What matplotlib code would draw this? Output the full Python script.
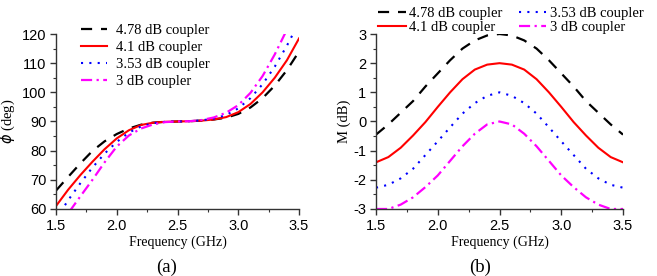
import matplotlib.pyplot as plt
from matplotlib.ticker import MultipleLocator

plt.rcParams["axes.unicode_minus"] = False

freq = [1.5, 1.6, 1.7, 1.8, 1.9, 2.0, 2.1, 2.2, 2.3, 2.4, 2.5,
        2.6, 2.7, 2.8, 2.9, 3.0, 3.1, 3.2, 3.3, 3.4, 3.5]

labels = ["4.78 dB coupler", "4.1 dB coupler", "3.53 dB coupler", "3 dB coupler"]

# phase (deg), panel (a)
phi_478 = [66.3, 71.0, 75.6, 79.9, 83.2, 85.7, 87.6, 88.9, 89.6, 89.9, 90.0,
           90.1, 90.3, 90.7, 91.3, 92.6, 94.8, 98.0, 102.3, 107.6, 114.0]
phi_41 = [61.0, 66.6, 71.6, 76.2, 80.5, 84.2, 87.0, 88.8, 89.6, 89.9, 90.0,
          90.1, 90.3, 90.7, 91.5, 93.2, 96.0, 100.0, 105.0, 111.0, 118.5]
phi_353 = [56.5, 63.0, 68.8, 74.2, 79.0, 83.0, 86.2, 88.3, 89.4, 89.9, 90.0,
           90.1, 90.4, 91.0, 92.2, 94.5, 98.0, 102.8, 108.8, 116.0, 124.0]
phi_3 = [53.0, 58.5, 64.3, 70.0, 76.0, 81.4, 85.2, 87.6, 89.0, 89.8, 90.0,
         90.1, 90.5, 91.4, 93.0, 95.6, 99.8, 105.6, 113.0, 121.5, 131.0]

# M (dB), panel (b)
m_478 = [-0.45, -0.1, 0.3, 0.7, 1.2, 1.65, 2.1, 2.5, 2.78, 2.95, 3.0,
         2.95, 2.78, 2.5, 2.1, 1.65, 1.2, 0.7, 0.3, -0.1, -0.45]
m_41 = [-1.4, -1.22, -0.9, -0.48, -0.02, 0.5, 1.0, 1.45, 1.78, 1.95, 2.0,
        1.95, 1.78, 1.45, 1.0, 0.5, -0.02, -0.48, -0.9, -1.22, -1.4]
m_353 = [-2.27, -2.17, -1.95, -1.62, -1.15, -0.68, -0.2, 0.27, 0.63, 0.88, 1.0,
         0.88, 0.63, 0.27, -0.2, -0.68, -1.15, -1.62, -1.95, -2.17, -2.27]
m_3 = [-3.0, -3.0, -2.85, -2.6, -2.25, -1.85, -1.35, -0.85, -0.42, -0.1, 0.0,
       -0.1, -0.42, -0.85, -1.35, -1.85, -2.25, -2.6, -2.85, -3.0, -3.0]

styles = [dict(color="black", linestyle=(0, (5, 4)), lw=1.6),
          dict(color="#ff0000", linestyle="-", lw=1.5),
          dict(color="blue", linestyle=(0, (1, 3)), lw=1.5),
          dict(color="magenta", linestyle=(0, (5, 2, 1, 2)), lw=1.6)]

serif = "Liberation Serif"
sans = "Liberation Sans"

fig = plt.figure(figsize=(6.57, 2.76), dpi=100)
ax1 = fig.add_axes([0.0852, 0.2428, 0.370, 0.634])
ax2 = fig.add_axes([0.5723, 0.2428, 0.376, 0.634])


def style_axes(ax):
    for s in ["top", "right"]:
        ax.spines[s].set_visible(False)
    for s in ["left", "bottom"]:
        ax.spines[s].set_color("#333333")
        ax.spines[s].set_linewidth(1.0)
    ax.tick_params(which="major", direction="out", length=4, width=1, color="#333333", pad=3)
    ax.tick_params(which="minor", direction="out", length=2.5, width=0.8, color="#333333")
    for t in ax.get_xticklabels() + ax.get_yticklabels():
        t.set_fontfamily(sans)
        t.set_fontsize(10.5)
    ax.set_xlim(1.5, 3.5)
    ax.xaxis.set_major_locator(MultipleLocator(0.5))
    ax.xaxis.set_minor_locator(MultipleLocator(0.25))
    ax.set_xlabel("Frequency (GHz)", family=serif, fontsize=10, labelpad=2)


for y, lab, st in zip([phi_478, phi_41, phi_353, phi_3], labels, styles):
    ax1.plot(freq, y, label=lab, **st)
ax1.set_ylim(60, 120)
ax1.yaxis.set_major_locator(MultipleLocator(10))
ax1.yaxis.set_minor_locator(MultipleLocator(5))
ax1.set_xticks([1.5, 2.0, 2.5, 3.0, 3.5])
ax1.set_xticklabels(["1.5", "2.0", "2.5", "3.0", "3.5"])
style_axes(ax1)
ax1.set_ylabel(r"$\phi$ (deg)", family=serif, fontsize=10.5, labelpad=3)
ax1.legend(loc="upper left", bbox_to_anchor=(0.103, 1.058), frameon=False,
           prop={"family": serif, "size": 10.5}, handlelength=1.8,
           handletextpad=0.6, labelspacing=0.27, borderaxespad=0, borderpad=0)

for y, lab, st in zip([m_478, m_41, m_353, m_3], labels, styles):
    ax2.plot(freq, y, label=lab, **st)
ax2.set_ylim(-3, 3)
ax2.yaxis.set_major_locator(MultipleLocator(1))
ax2.yaxis.set_minor_locator(MultipleLocator(0.5))
ax2.set_xticks([1.5, 2.0, 2.5, 3.0, 3.5])
ax2.set_xticklabels(["1.5", "2.0", "2.5", "3.0", "3.5"])
style_axes(ax2)
ax2.set_ylabel("M (dB)", family=serif, fontsize=10.5, labelpad=2)
ax2.legend(loc="lower left", bbox_to_anchor=(0.008, 0.998), frameon=False, ncol=2,
           prop={"family": serif, "size": 10.5}, handlelength=1.9,
           handletextpad=0.25, labelspacing=0.08, columnspacing=1.1,
           borderaxespad=0, borderpad=0)

fig.text(0.253, 0.0145, "(a)", family=serif, fontsize=13.5, ha="center", va="baseline")
fig.text(0.731, 0.0145, "(b)", family=serif, fontsize=13.5, ha="center", va="baseline")

fig.savefig("out.png", dpi=100)
